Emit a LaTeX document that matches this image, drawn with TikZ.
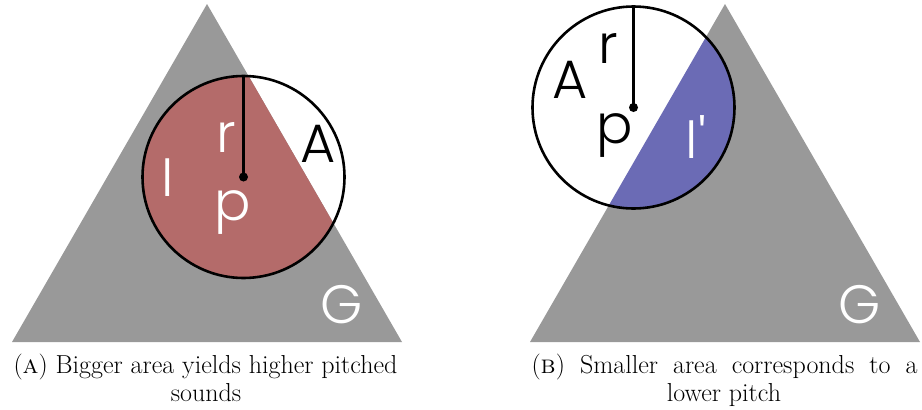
\documentclass[tikz,border=0pt]{standalone}
\usepackage{fontspec}
\newfontfamily\labelfont{Poppins Light}
\definecolor{regiongray}{HTML}{999999}
\definecolor{insidered}{HTML}{B46B6A}
\definecolor{insideblue}{HTML}{6B6BB5}
\tikzset{
  lbl/.style={font=\labelfont\fontsize{54}{60}\selectfont, anchor=base, inner sep=0pt},
  lblw/.style={lbl, text=white},
  rim/.style={draw=black, line width=2.6pt},
  spoke/.style={line width=2.6pt},
  centre/.style={circle, fill=black, inner sep=0pt, minimum size=9pt},
  capt/.style={font=\fontsize{26}{31}\selectfont, anchor=base, inner sep=0pt},
}
\begin{document}
\begin{tikzpicture}[x=1pt, y=-1pt]
\useasboundingbox (0,0) rectangle (922,410);

% ---------- (a) larger overlap ----------
\fill[regiongray] (12,342) -- (402,342) -- (207,4) -- cycle;
\begin{scope}
  \clip (243.5,177) circle (101);
  \fill[insidered] (12,342) -- (402,342) -- (207,4) -- cycle;
\end{scope}
\draw[rim] (243.5,177) circle (101);
\node[centre] (pa) at (243.5,177) {};
\coordinate (ra) at (243.5,76);
\draw[spoke] (pa.center) -- (ra);
\node[lblw] (la-r) at (226,152) {r};
\node[lblw] (la-I) at (168,196) {I};
\node[lblw] (la-p) at (233,220) {p};
\node[lbl]  (la-A) at (318,162) {A};
\node[lblw] (la-G) at (342,323) {G};
\node[capt] (capa1) at (205.5,373) {(\textsc{a}) Bigger area yields higher pitched};
\node[capt] (capa2) at (206,401) {sounds};

% ---------- (b) smaller overlap ----------
\fill[regiongray] (530,342) -- (920,342) -- (725,4) -- cycle;
\fill[white] (633.5,107.5) circle (101);
\begin{scope}
  \clip (633.5,107.5) circle (101);
  \fill[insideblue] (530,342) -- (920,342) -- (725,4) -- cycle;
\end{scope}
\draw[rim] (633.5,107.5) circle (101);
\node[centre] (pb) at (633.5,107.5) {};
\coordinate (rb) at (633.5,6.5);
\draw[spoke] (pb.center) -- (rb);
\node[lbl]  (lb-A) at (570,98) {A};
\node[lbl]  (lb-r) at (608,63) {r};
\node[lbl]  (lb-p) at (615,143) {p};
\node[lblw] (lb-I) at (696,158) {I'};
\node[lblw] (lb-G) at (860,323) {G};
\node[capt] (capb1) at (724.5,373) {\makebox[386pt][s]{(\textsc{b})\ Smaller area corresponds to a}};
\node[capt] (capb2) at (724,401) {lower pitch};
\end{tikzpicture}
\end{document}
